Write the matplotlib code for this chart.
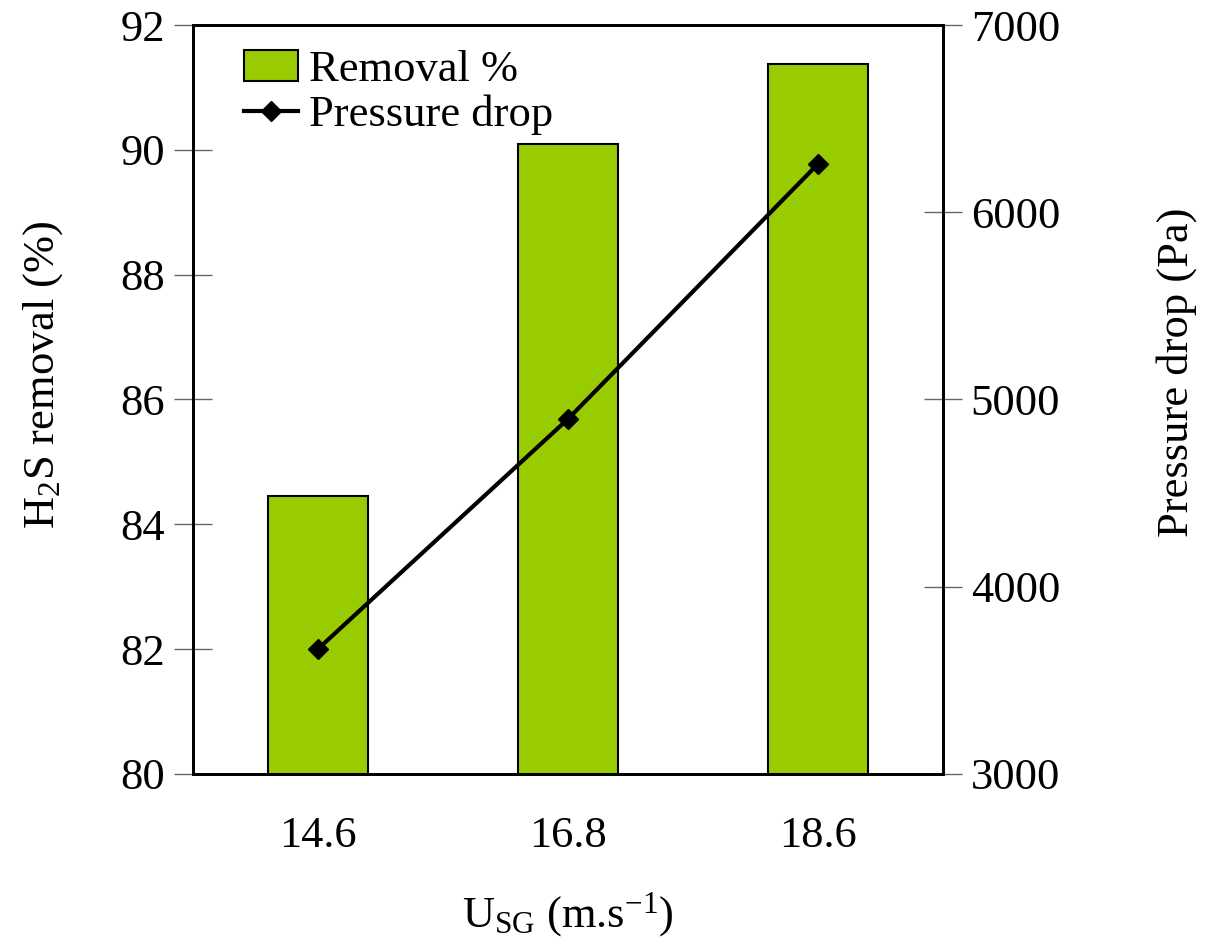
import matplotlib
matplotlib.use("Agg")
import matplotlib.pyplot as plt
import numpy as np

plt.rcParams["font.family"] = ["Liberation Serif", "DejaVu Serif"]
plt.rcParams["mathtext.fontset"] = "custom"
plt.rcParams["mathtext.rm"] = "Liberation Serif"
plt.rcParams["mathtext.it"] = "Liberation Serif:italic"
plt.rcParams["mathtext.bf"] = "Liberation Serif:bold"

# superficial gas velocity vs. H2S removal and pressure drop
velocity = ["14.6", "16.8", "18.6"]
removal = [84.45, 90.1, 91.37]
pressure_drop = [3668, 4896, 6258]

fig = plt.figure(figsize=(12.08, 9.47), dpi=100)
ax = fig.add_axes([0.1598, 0.1827, 0.6208, 0.7909])
ax2 = ax.twinx()

x = np.arange(len(velocity))
bars = ax.bar(x, removal, width=0.4, color="#99cc00", edgecolor="black",
              linewidth=1.5, label="Removal %", zorder=2)
line, = ax2.plot(x, pressure_drop, color="black", linewidth=3, marker="D",
                 markersize=10, label="Pressure drop", zorder=3)

ax.set_xlim(-0.5, 2.5)
ax.set_ylim(80, 92)
ax.set_yticks(np.arange(80, 93, 2))
ax2.set_ylim(3000, 7000)
ax2.set_yticks(np.arange(3000, 7001, 1000))
ax.set_xticks(x)
ax.set_xticklabels(velocity)

for a in (ax, ax2):
    for s in a.spines.values():
        s.set_linewidth(2)
    a.tick_params(axis="y", direction="inout", length=28, width=1,
                  color="#666666", labelsize=32, pad=6)
ax.tick_params(axis="x", length=0, labelsize=32, pad=30)

ax.set_ylabel(r"H$_2$S removal (%)", fontsize=32, labelpad=40)
ax2.set_ylabel("Pressure drop (Pa)", fontsize=32, labelpad=69)
ax.yaxis.label.set_y(0.533)
ax2.yaxis.label.set_y(0.537)
ax.set_xlabel(r"U$_{\mathrm{SG}}$ (m.s$^{-1}$)", fontsize=32, labelpad=25)

ax.legend([bars, line], ["Removal %", "Pressure drop"], loc="upper left",
          frameon=False, fontsize=32, handlelength=1.2, handletextpad=0.25,
          labelspacing=0.1, borderaxespad=0.3, bbox_to_anchor=(0.027, 1.008))

fig.savefig("out.png", dpi=100)
